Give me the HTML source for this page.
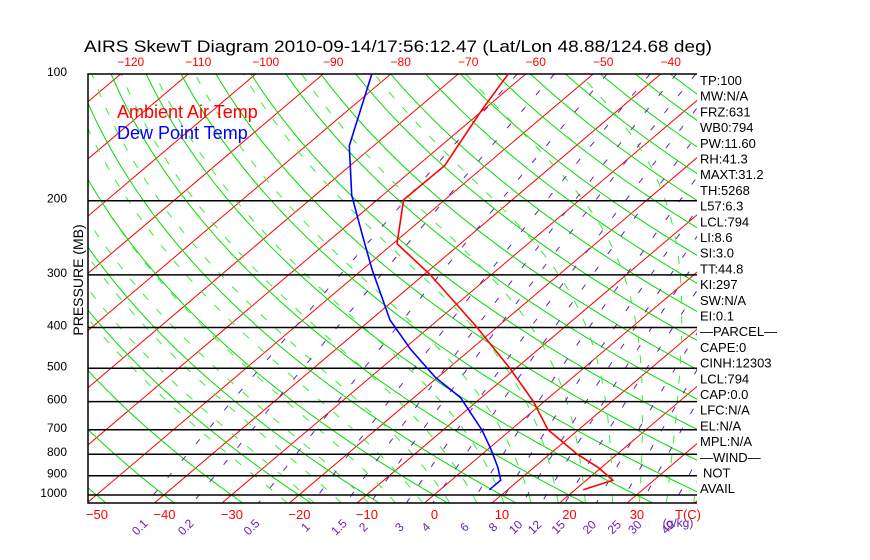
<!DOCTYPE html>
<html><head><meta charset="utf-8"><style>
html,body{margin:0;padding:0;background:#fff;}
svg{display:block;font-family:"Liberation Sans",sans-serif;}
</style></head><body>
<svg id="chart" width="870" height="560" viewBox="0 0 870 560">
<defs><clipPath id="plotclip"><rect x="88" y="74" width="609" height="429"/></clipPath></defs>
<rect width="870" height="560" fill="#fff"/>
<text x="84" y="52" font-family="Liberation Sans, sans-serif" font-size="17" textLength="628" lengthAdjust="spacingAndGlyphs" fill="#000">AIRS SkewT Diagram 2010-09-14/17:56:12.47 (Lat/Lon 48.88/124.68 deg)</text>
<g id="bg" clip-path="url(#plotclip)"></g>
<g id="grid"></g>
<g id="profiles" clip-path="url(#plotclip)"></g>
<g id="labels"></g>
<text x="117" y="118" font-size="18" fill="#ff0000">Ambient Air Temp</text>
<text x="117" y="139" font-size="18" fill="#0000ff">Dew Point Temp</text>
<text transform="translate(83,280) rotate(-90)" text-anchor="middle" font-size="14" fill="#000">PRESSURE (MB)</text>
</svg>
<script>
const pressureTicks = [100,200,300,400,500,600,700,800,900,1000];
const bottomTempTicks = [-50,-40,-30,-20,-10,0,10,20,30];
const topTempTicks = [-120,-110,-100,-90,-80,-70,-60,-50,-40];
const mixingRatios = [0.1,0.2,0.5,1,1.5,2,3,4,6,8,10,12,15,20,25,30,40];
const mixingLabels = ["0.1","0.2","0.5","1","1.5","2","3","4","6","8","10","12","15","20","25","30","40"];
const tempPressure = [100,122,165,199,253,300,400,500,600,700,800,860,922,972];
const tempValues = [-62.6,-60.2,-56.0,-56.1,-49.4,-39.0,-22.9,-10.9,-1.6,5.5,14.1,19.5,23.9,21.2];
const dewPressure = [100,148,194,241,292,384,451,526,587,703,783,859,922,972];
const dewValues = [-82.8,-73.6,-64.6,-56.1,-48.5,-37.1,-28.9,-20.3,-13.1,-4.1,0.7,4.6,7.3,7.3];
const statLabels = ["TP:100","MW:N/A","FRZ:631","WB0:794","PW:11.60","RH:41.3","MAXT:31.2","TH:5268","L57:6.3","LCL:794","LI:8.6","SI:3.0","TT:44.8","KI:297","SW:N/A","EI:0.1","\u2014PARCEL\u2014","CAPE:0","CINH:12303","LCL:794","CAP:0.0","LFC:N/A","EL:N/A","MPL:N/A","\u2014WIND\u2014","NOT","AVAIL"];

const NS="http://www.w3.org/2000/svg";
const Y0=74, YB=503, XL=88, XR=697;
function yOf(p){return Y0+421*Math.log10(p/100);}
function xOf(t,p){return 424.5+6.75*t+1.18*(YB-yOf(p));}
function mk(tag,attrs,parent){const e=document.createElementNS(NS,tag);for(const k in attrs)e.setAttribute(k,attrs[k]);parent.appendChild(e);return e;}
const bg=document.getElementById('bg'), grid=document.getElementById('grid'), prof=document.getElementById('profiles'), lab=document.getElementById('labels');
const PBOT=1045;
function pts(fn){let s=[];for(let p=100;p<=PBOT;p+=5){const t=fn(p);s.push(xOf(t,p).toFixed(1)+','+yOf(p).toFixed(1));}return s.join(' ');}

for(let t=-160;t<=50;t+=10){
  const l=mk('line',{x1:xOf(t,PBOT),y1:yOf(PBOT),x2:xOf(t,100),y2:yOf(100),stroke:'#ff0000','stroke-width':1},bg);
  
  
}
for(let th=-100;th<=200;th+=10){
  const l=mk('polyline',{points:pts(p=>(th+273.15)*Math.pow(p/1000,0.286)-273.15),fill:'none',stroke:'#00dd00','stroke-width':1},bg);
  
  
}
function es(t){return 6.112*Math.exp(17.67*t/(t+243.5));}
function moist(t0){
  let arr=[],t=t0;
  for(let p=1050;p>=100;p-=5){
    arr.push([p,t]);
    const T=t+273.15,e=es(t),r=0.622*e/(p-e),L=2.5e6,Rd=287,cp=1004;
    const num=(Rd*T+L*r)/(cp+L*L*r*0.622/(Rd*T*T));
    t-=num/p*5;
  }
  return arr;
}
for(let t0=-20;t0<=40;t0+=4){
  const a=moist(t0).filter(q=>q[0]<=PBOT).map(q=>xOf(q[1],q[0]).toFixed(1)+','+yOf(q[0]).toFixed(1)).join(' ');
  const l=mk('polyline',{points:a,fill:'none',stroke:'#33ee33','stroke-width':1,'stroke-dasharray':'8,12'},bg);
  
  
}
function tw(w,p){const e=w*p/(622+w);const l=Math.log(e/6.112);return 243.5*l/(17.67-l);}
mixingRatios.forEach((w,i)=>{
  const l=mk('polyline',{points:pts(p=>tw(w,p)),fill:'none',stroke:'#6a1fb0','stroke-width':1,'stroke-dasharray':'6,16'},bg);
  
  
  const x=xOf(tw(w,PBOT),PBOT)-4;
  const tx=mk('text',{x:0,y:0,transform:`translate(${x.toFixed(1)},530) rotate(-45)`,'text-anchor':'middle','font-size':12,fill:'#6a1fb0'},lab);
  tx.textContent=mixingLabels[i];
  
  
});
pressureTicks.forEach(p=>{
  const y=yOf(p);
  if(p>100){const l=mk('line',{x1:XL,y1:y,x2:XR,y2:y,stroke:'#000','stroke-width':1.5},grid);
  
  }
  const t=mk('text',{x:67,y:y+2,'text-anchor':'end','font-size':12,fill:'#000'},lab);
  t.textContent=p;
  
  
});
const frame=mk('path',{d:`M${XR},${Y0}H${XL}V${YB}H${XR}`,fill:'none',stroke:'#000','stroke-width':1.5},grid);


bottomTempTicks.forEach(t=>{
  const x=xOf(t,PBOT)+10;
  const e=mk('text',{x:x,y:519,'text-anchor':'middle','font-size':13,fill:'#ff0000'},lab);
  e.textContent=t<0?'\u2212'+(-t):t;
  
  
});
const tc=mk('text',{x:688,y:519,'text-anchor':'middle','font-size':13,fill:'#ff0000'},lab);
tc.textContent='T(C)';


const gk=mk('text',{x:678,y:527,'text-anchor':'middle','font-size':12,fill:'#6a1fb0'},lab);
gk.textContent='(g/kg)';


topTempTicks.forEach(t=>{
  const x=xOf(t,100)+10;
  const e=mk('text',{x:x,y:66,'text-anchor':'middle','font-size':12,fill:'#ff0000'},lab);
  e.textContent='\u2212'+(-t);
  
  
});
function line(P,T,color,name){
  const s=P.map((p,i)=>xOf(T[i],p).toFixed(1)+','+yOf(p).toFixed(1)).join(' ');
  const l=mk('polyline',{points:s,fill:'none',stroke:color,'stroke-width':1.6},prof);
  
  
}
line(tempPressure,tempValues,'#ff0000','ambient-temp-line');
line(dewPressure,dewValues,'#0000ff','dewpoint-line');
statLabels.forEach((s,i)=>{
  const e=mk('text',{x:s==='NOT'?703:700,y:85+i*15.7,'font-size':13,fill:'#000'},lab);
  e.textContent=s;
  
  
});
</script>
</body></html>
